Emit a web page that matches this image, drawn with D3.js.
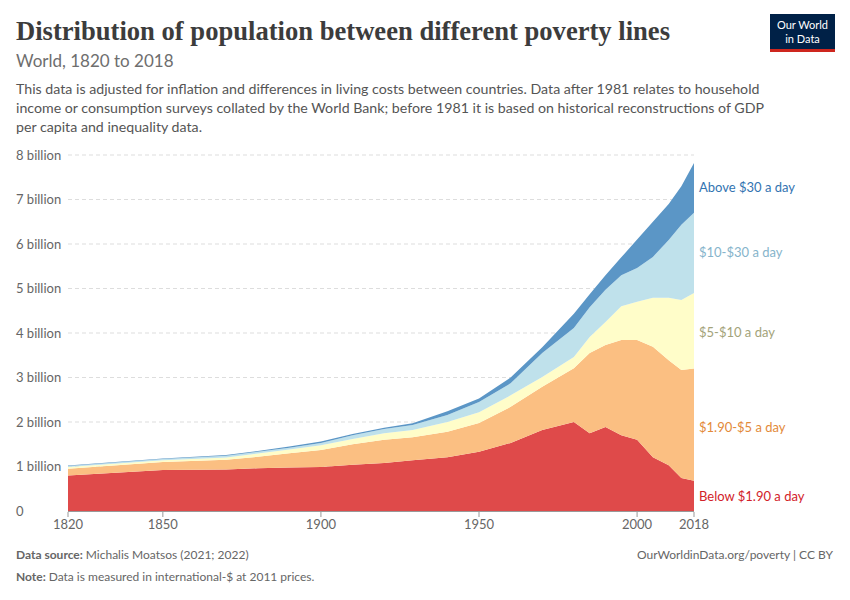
<!DOCTYPE html><html><head><meta charset="utf-8"><script src="https://cdn.jsdelivr.net/npm/d3@7"></script>
<style>body{margin:0;background:#fff;font-family:Lato,sans-serif}</style></head><body><svg id="c" width="850" height="600"></svg>
<script>
const years=[1820,1850,1870,1880,1890,1900,1910,1920,1929,1940,1950,1960,1970,1980,1985,1990,1995,2000,2005,2010,2014,2018];
const below190=[.80,.92,.93,.96,.98,.99,1.04,1.08,1.14,1.21,1.33,1.53,1.82,2.0,1.75,1.89,1.7,1.6,1.21,1.03,.74,.68];
const r190to5=[.15,.18,.22,.26,.32,.38,.46,.52,.52,.57,.65,.81,.97,1.21,1.8,1.84,2.14,2.24,2.48,2.36,2.43,2.52];
const r5to10=[.04,.04,.05,.07,.08,.11,.12,.15,.16,.22,.24,.26,.22,.25,.36,.52,.76,.86,1.1,1.4,1.57,1.7];
const r10to30=[.02,.03,.04,.04,.04,.05,.08,.09,.11,.16,.23,.27,.54,.65,.67,.72,.7,.76,.92,1.3,1.69,1.8];
const above30=[.01,.01,.02,.02,.03,.03,.03,.03,.04,.08,.08,.13,.13,.32,.29,.33,.4,.64,.79,.81,.87,1.12];
const seriesNames=["Below $1.90 a day","$1.90-$5 a day","$5-$10 a day","$10-$30 a day","Above $30 a day"];
const fills=["#df4a4a","#fbbf82","#fffdc9","#bfe1eb","#5b96c6"];
const labelColors=["#d2222a","#e38a3a","#a3a37a","#86b4cb","#3374b1"];
const yTicks=[0,1,2,3,4,5,6,7,8];
const xTicks=[1820,1850,1900,1950,2000,2018];
const svg=d3.select("#c");
const x=d3.scaleLinear().domain([1820,2018]).range([68,694]);
const y=d3.scaleLinear().domain([0,8]).range([511,155]);
const rows=years.map((yr,i)=>({year:yr,s0:below190[i],s1:r190to5[i],s2:r5to10[i],s3:r10to30[i],s4:above30[i]}));
const stack=d3.stack().keys(["s0","s1","s2","s3","s4"])(rows);
svg.append("g").selectAll("line").data(yTicks.slice(1)).join("line").attr("x1",68).attr("x2",694).attr("y1",d=>y(d)).attr("y2",d=>y(d)).attr("stroke","#ddd").attr("stroke-dasharray","4,3");
svg.append("g").selectAll("text").data(yTicks).join("text").attr("x",16).attr("y",d=>y(d)+4.5).attr("font-size",13).attr("fill","#666").text(d=>d===0?"0":d+" billion");
const area=d3.area().x(d=>x(d.data.year)).y0(d=>y(d[0])).y1(d=>y(d[1]));
svg.append("g").selectAll("path").data(stack).join("path").attr("d",area).attr("fill",(d,i)=>fills[i]);
svg.append("line").attr("x1",68).attr("x2",694).attr("y1",511.5).attr("y2",511.5).attr("stroke","#999");
const xa=svg.append("g");
xa.selectAll("line").data(xTicks).join("line").attr("x1",d=>x(d)).attr("x2",d=>x(d)).attr("y1",512).attr("y2",517).attr("stroke","#999");
xa.selectAll("text").data(xTicks).join("text").attr("x",d=>x(d)).attr("y",529).attr("text-anchor","middle").attr("font-size",13).attr("fill","#666").text(d=>d);
const labelY=[496,427,332,252,187];
stack.forEach((s,i)=>{svg.append("text").attr("x",699).attr("y",labelY[i]+4.5).attr("font-size",13).attr("fill",labelColors[i]).text(seriesNames[i]);});
svg.append("text").attr("x",16).attr("y",40).attr("font-family","'Liberation Serif',serif").attr("font-size",26.6).attr("font-weight","bold").attr("fill","#3c3c3c").text("Distribution of population between different poverty lines");
svg.append("text").attr("x",16).attr("y",67).attr("font-size",17).attr("fill","#6e6e6e").text("World, 1820 to 2018");
["This data is adjusted for inflation and differences in living costs between countries. Data after 1981 relates to household","income or consumption surveys collated by the World Bank; before 1981 it is based on historical reconstructions of GDP","per capita and inequality data."].forEach((t,i)=>svg.append("text").attr("x",16).attr("y",94+i*19).attr("font-size",14.2).attr("fill","#555").text(t));
svg.append("rect").attr("x",770).attr("y",14).attr("width",65).attr("height",38).attr("fill","#002147");
svg.append("rect").attr("x",770).attr("y",49).attr("width",65).attr("height",3).attr("fill","#ce261e");
svg.append("text").attr("x",802.5).attr("y",29).attr("text-anchor","middle").attr("font-size",11).attr("fill","#fff").text("Our World");
svg.append("text").attr("x",802.5).attr("y",43).attr("text-anchor","middle").attr("font-size",11).attr("fill","#fff").text("in Data");
const f1=svg.append("text").attr("x",16).attr("y",559).attr("font-size",12).attr("fill","#666");
f1.append("tspan").attr("font-weight","bold").text("Data source: ");f1.append("tspan").text("Michalis Moatsos (2021; 2022)");
const f2=svg.append("text").attr("x",16).attr("y",581).attr("font-size",12).attr("fill","#666");
f2.append("tspan").attr("font-weight","bold").text("Note: ");f2.append("tspan").text("Data is measured in international-$ at 2011 prices.");
svg.append("text").attr("x",833).attr("y",559).attr("text-anchor","end").attr("font-size",12).attr("fill","#666").text("OurWorldinData.org/poverty | CC BY");
</script></body></html>
